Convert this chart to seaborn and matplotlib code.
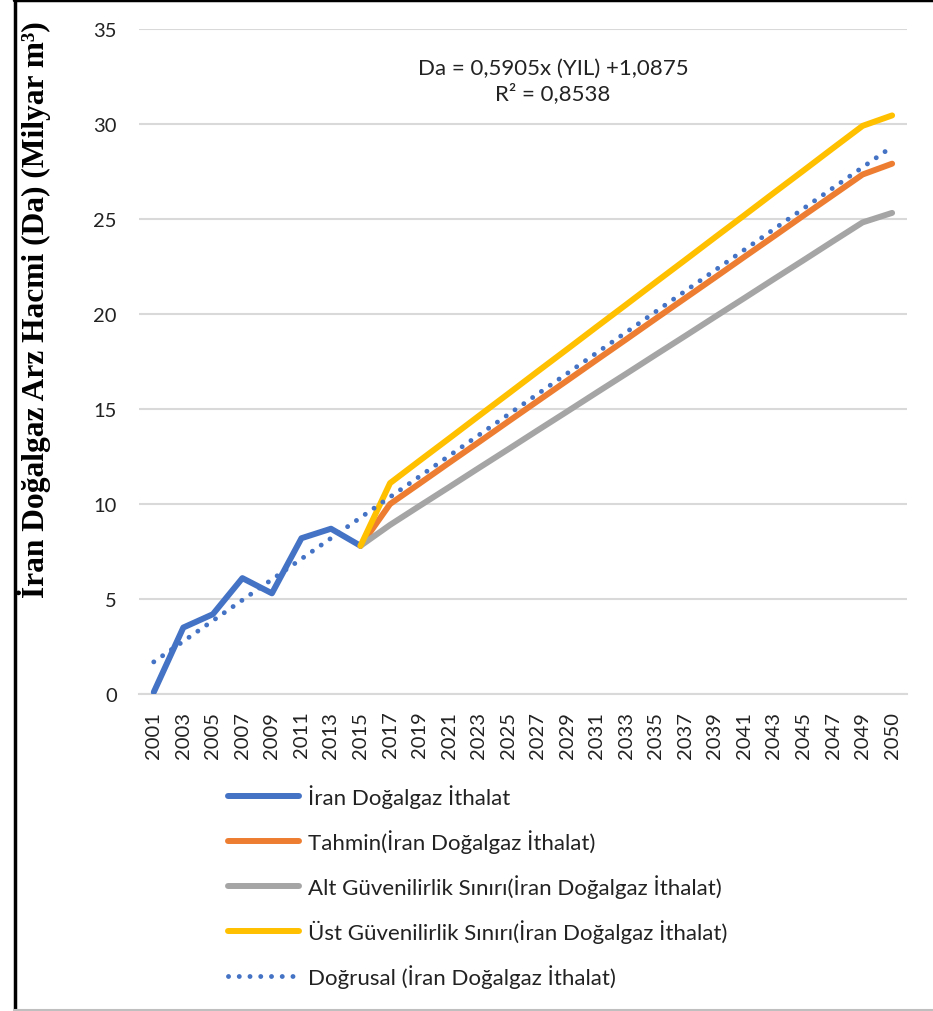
import numpy as np
import pandas as pd
import matplotlib
matplotlib.use("Agg")
import matplotlib.pyplot as plt
from matplotlib.lines import Line2D
import seaborn as sns

# categories on the x axis (odd years + last year)
years = [str(y) for y in range(2001, 2050, 2)] + ["2050"]

# historical imports 2001..2015
hist_years = ["2001", "2003", "2005", "2007", "2009", "2011", "2013", "2015"]
hist_vals = [0.1, 3.5, 4.2, 6.1, 5.3, 8.2, 8.7, 7.8]

# forecast series 2015..2050
fc_years = ["2015"] + [str(y) for y in range(2017, 2050, 2)] + ["2050"]
forecast = [7.8, 10.00, 11.08, 12.17, 13.25, 14.34, 15.42, 16.50, 17.59,
            18.67, 19.76, 20.84, 21.92, 23.01, 24.09, 25.18, 26.26, 27.34,
            27.91]
lower = [7.8, 8.90, 9.90, 10.89, 11.89, 12.88, 13.88, 14.87, 15.87, 16.86,
         17.86, 18.85, 19.85, 20.84, 21.84, 22.83, 23.83, 24.82, 25.32]
upper = [7.8, 11.10, 12.28, 13.45, 14.63, 15.80, 16.98, 18.15, 19.33, 20.50,
         21.68, 22.85, 24.03, 25.20, 26.38, 27.55, 28.73, 29.90, 30.45]

labels = ["İran Doğalgaz İthalat",
          "Tahmin(İran Doğalgaz İthalat)",
          "Alt Güvenilirlik Sınırı(İran Doğalgaz İthalat)",
          "Üst Güvenilirlik Sınırı(İran Doğalgaz İthalat)",
          "Doğrusal (İran Doğalgaz İthalat)"]
colors = ["#4472C4", "#ED7D31", "#A5A5A5", "#FFC000", "#4472C4"]

pos = {y: i for i, y in enumerate(years)}

hist = pd.DataFrame({"x": [pos[y] for y in hist_years], "y": hist_vals})
fc = pd.DataFrame({"x": [pos[y] for y in fc_years],
                   "forecast": forecast, "lower": lower, "upper": upper})

# linear trend fitted on the historical series (Excel style, index based)
coef = np.polyfit(np.arange(1, len(hist_vals) + 1), hist_vals, 1)
trend = pd.DataFrame({"x": np.arange(len(years)),
                      "y": np.polyval(coef, np.arange(1, len(years) + 1))})

sns.set_theme(style="white")
plt.rcParams["font.family"] = ["Lato", "DejaVu Sans"]

fig = plt.figure(figsize=(9.33, 10.12), dpi=100)
ax = fig.add_axes([0.149, 0.3132, 0.823, 0.6572])

lw = 4.3
dots = (0, (0.01, 2.2))
kw = dict(ax=ax, linewidth=lw, solid_capstyle="round", solid_joinstyle="round")
sns.lineplot(data=hist, x="x", y="y", color=colors[0], zorder=3, **kw)
sns.lineplot(data=fc, x="x", y="forecast", color=colors[1], zorder=4, **kw)
sns.lineplot(data=fc, x="x", y="lower", color=colors[2], zorder=4, **kw)
sns.lineplot(data=fc, x="x", y="upper", color=colors[3], zorder=5, **kw)
sns.lineplot(data=trend, x="x", y="y", ax=ax, color=colors[4], linewidth=3.5,
             linestyle=dots, dash_capstyle="round", zorder=6)

ax.set_xlim(-0.5, len(years) - 0.5)
ax.set_ylim(0, 35)
ax.set_yticks(range(0, 36, 5))
ax.set_xticks(range(len(years)))
ax.set_xticklabels(years, rotation=90)
ax.tick_params(axis="y", labelsize=14.5, pad=16, length=0, colors="#222222")
ax.tick_params(axis="x", labelsize=14.5, pad=12, length=0, colors="#222222")
ax.set_xlabel("")
ax.set_ylabel("")
ax.grid(axis="y", color="#D9D9D9", linewidth=1.5)
ax.grid(axis="x", visible=False)
for side in ["top", "right", "left"]:
    ax.spines[side].set_visible(False)
ax.spines["bottom"].set_color("#D9D9D9")
ax.spines["bottom"].set_linewidth(1.5)

ax.text(0.539, 0.9226, "Da = 0,5905x (YIL) +1,0875\nR² = 0,8538",
        transform=ax.transAxes, ha="center", va="center", fontsize=16,
        multialignment="center", linespacing=1.3, color="#222222")

fig.text(34 / 933, 0.694, "İran Doğalgaz Arz Hacmi (Da) (Milyar m³)",
         rotation=90, ha="center", va="center", fontsize=22.7,
         fontweight="bold", family="Liberation Serif", color="black")

handles = [Line2D([], [], color=c, linewidth=lw, solid_capstyle="round")
           for c in colors[:4]]
handles.append(Line2D([], [], color=colors[4], linewidth=3.5,
                      linestyle=dots, dash_capstyle="round"))
fig.legend(handles, labels, loc="upper left",
           bbox_to_anchor=(228 / 933, 1 - 785 / 1012), frameon=False,
           fontsize=16, handlelength=3.2, handletextpad=0.4,
           labelspacing=0.95, borderpad=0, borderaxespad=0,
           labelcolor="#222222")

# frame around the picture
fig.add_artist(Line2D([14.5 / 933, 14.5 / 933], [0, 1], color="black",
                      linewidth=2.5, transform=fig.transFigure))
fig.add_artist(Line2D([14 / 933, 1], [1 - 1 / 1012, 1 - 1 / 1012],
                      color="black", linewidth=2.5, transform=fig.transFigure))
fig.add_artist(Line2D([14 / 933, 1], [0.8 / 1012, 0.8 / 1012],
                      color="#BFBFBF", linewidth=1.5, transform=fig.transFigure))

fig.savefig("out.png", dpi=100)
